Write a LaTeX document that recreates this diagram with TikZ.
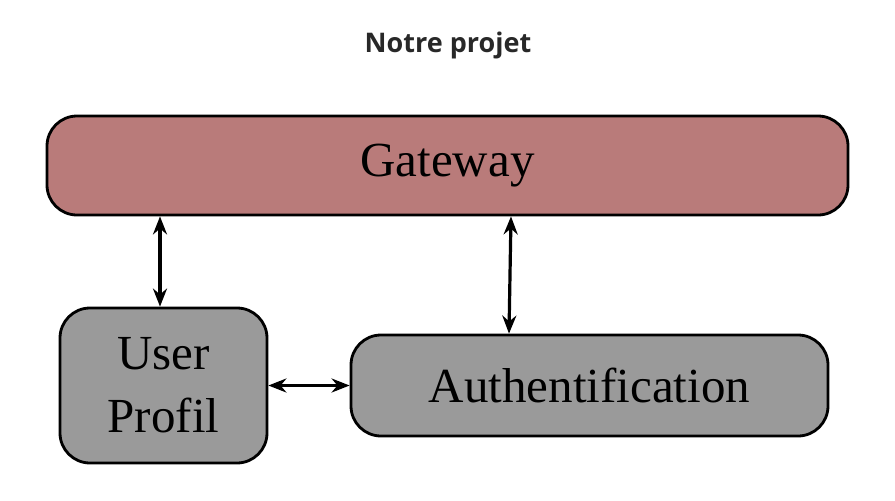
\documentclass[tikz,border=0pt]{standalone}
\usepackage{fontspec}
\setmainfont{Liberation Serif}
\newfontfamily\titlefont{Open Sans}
\usetikzlibrary{arrows.meta}
\definecolor{gatered}{RGB}{185,123,122}
\definecolor{boxgrey}{RGB}{154,154,154}
\tikzset{
  service/.style={draw=black, line width=2.8pt, rounded corners=30pt, inner sep=0pt, font=\fontsize{49}{63}\selectfont, align=center},
  link/.style={line width=3.2pt, {Stealth[length=18pt,width=14pt]}-{Stealth[length=18pt,width=14pt]}}
}
\begin{document}
\begin{tikzpicture}[x=1pt,y=-1pt]
            \useasboundingbox (0,0) rectangle (895,501);
            \node (titre) at (448,45) {\titlefont\bfseries\fontsize{27}{30}\selectfont\color[RGB]{40,40,40}Notre projet};
            \node[service, fill=gatered, minimum width=801pt, minimum height=99pt] (gw) at (447.5,165.5) {Gateway};
            \node[service, fill=boxgrey, minimum width=207pt, minimum height=155pt] (up) at (163.5,385.5) {User\\Profil};
            \node[service, fill=boxgrey, minimum width=477pt, minimum height=101pt] (au) at (589.5,385.5) {Authentification};
            \draw[link] (gw.south -| 160,0) -- (up.north -| 160,0);
            \draw[link] (gw.south -| 511,0) -- (au.north -| 509,0);
            \draw[link] (up.east) -- (au.west);
        \end{tikzpicture}
\end{document}
